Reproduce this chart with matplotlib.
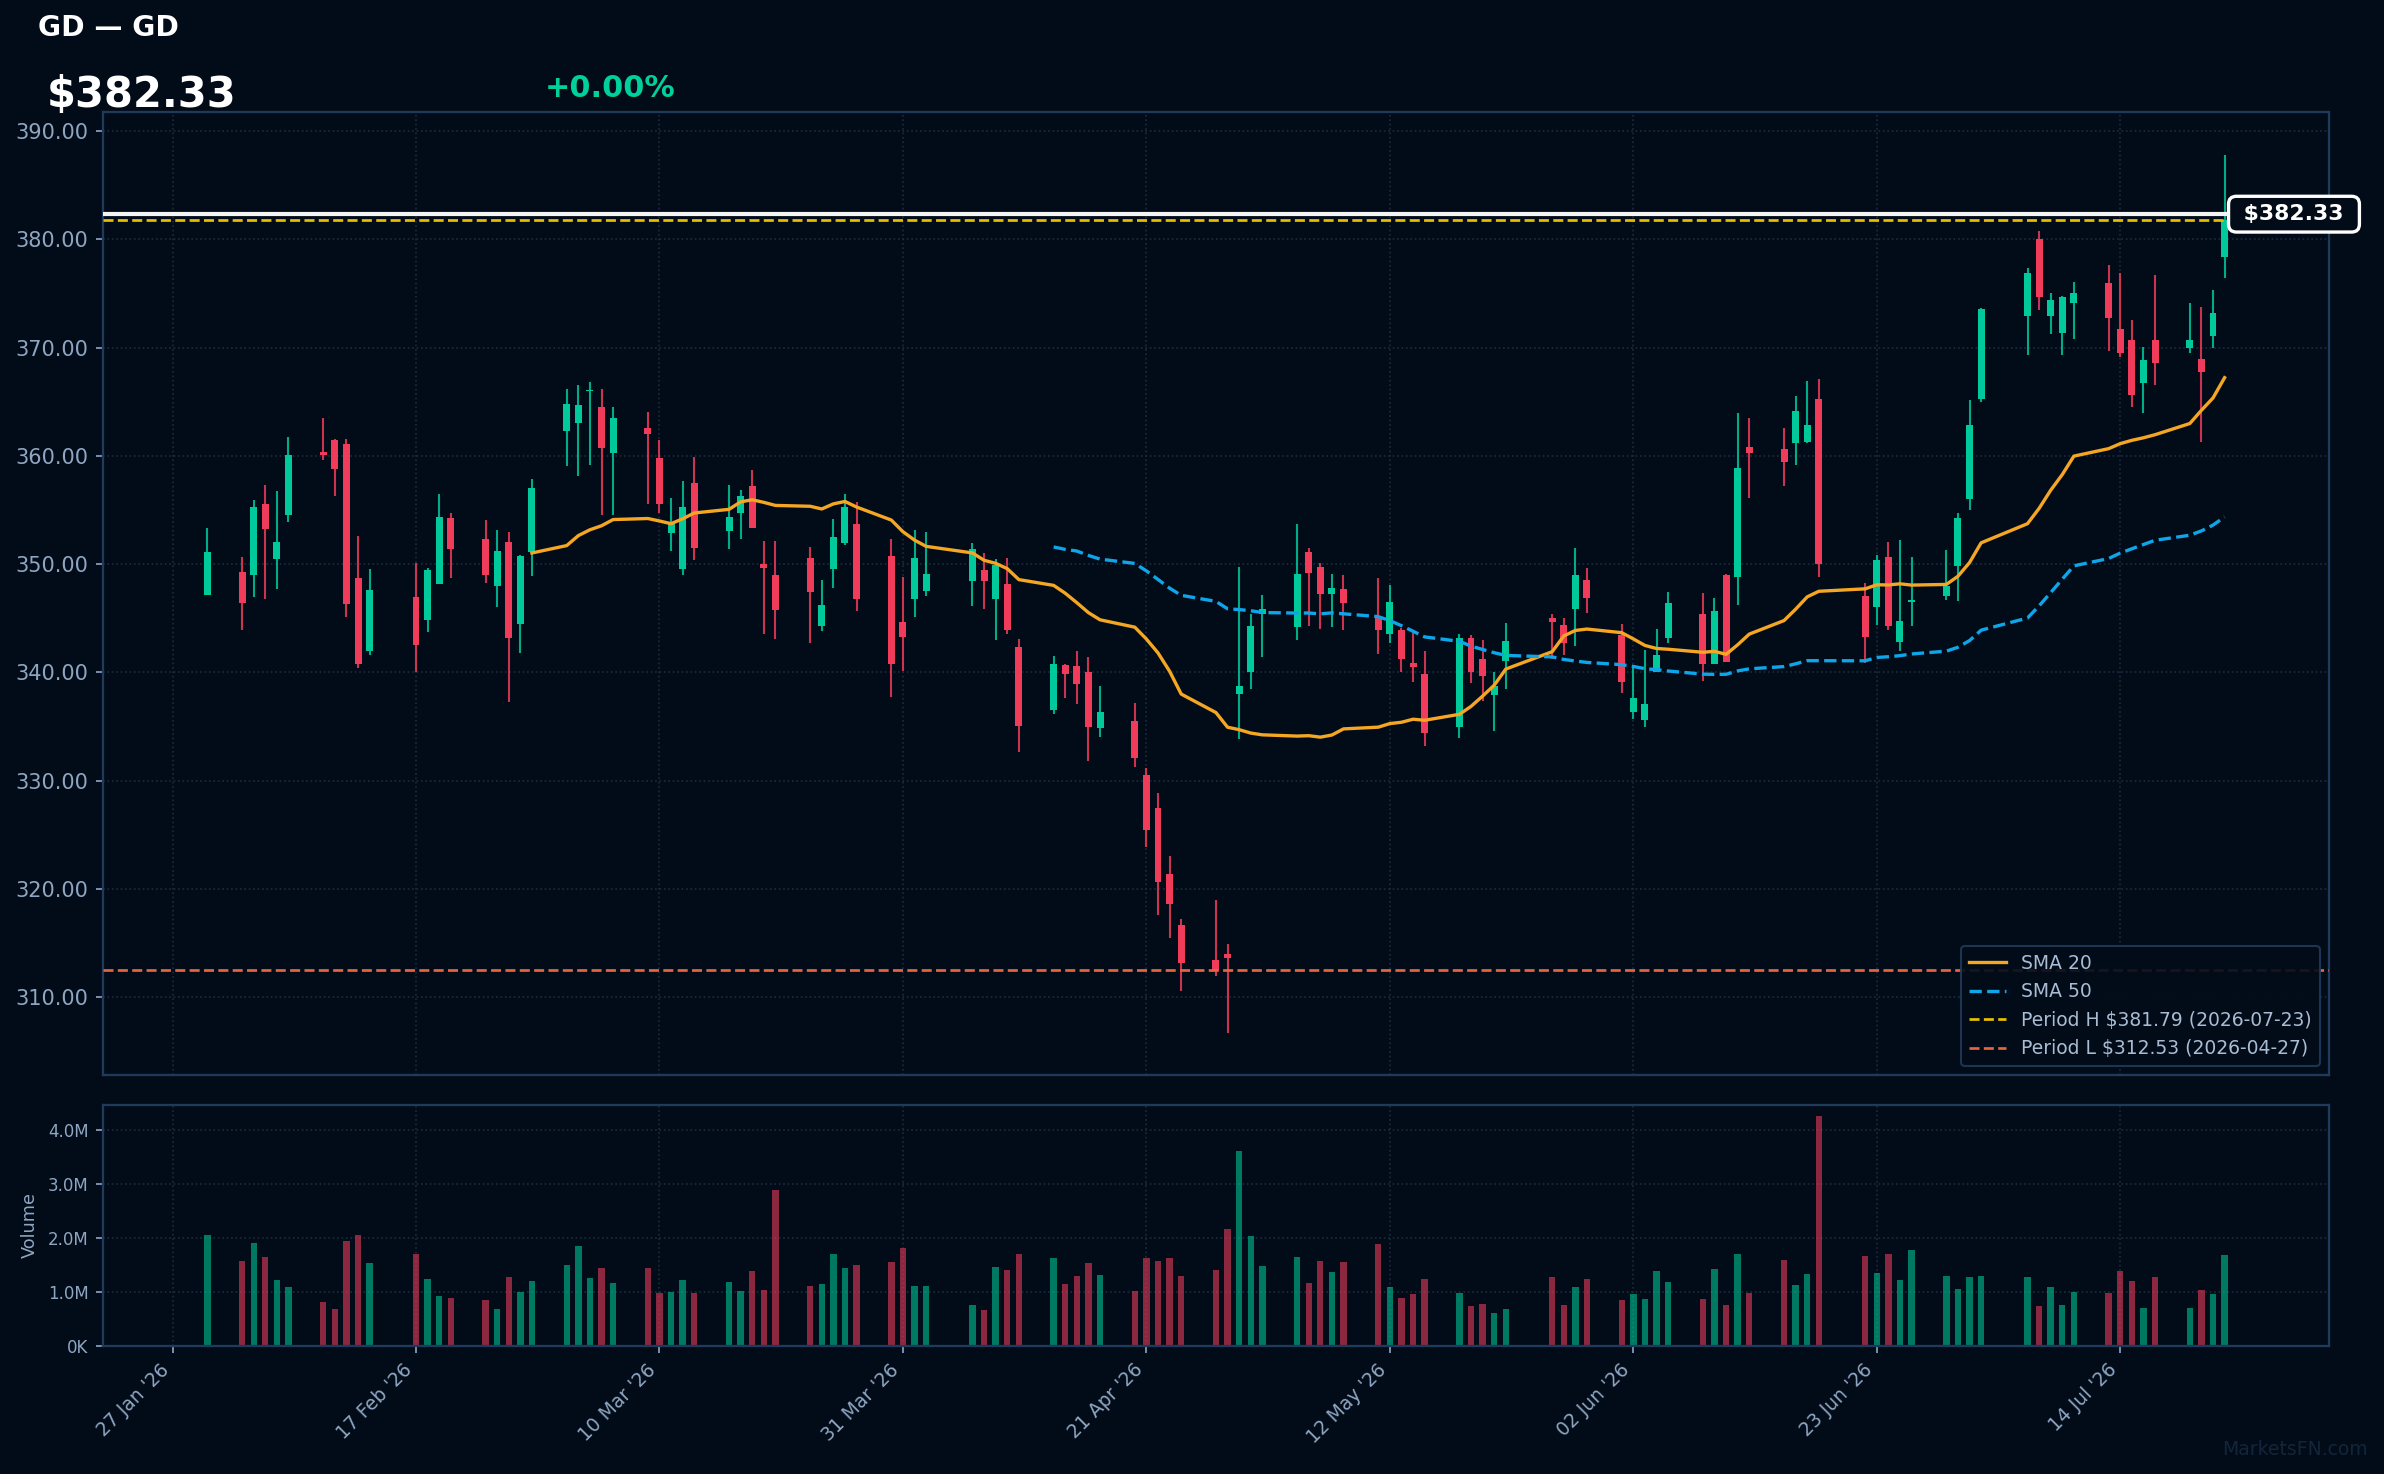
import numpy as np
import pandas as pd
import matplotlib
matplotlib.use("Agg")
import matplotlib.pyplot as plt
import matplotlib.dates as mdates
import matplotlib.transforms as mtransforms
from matplotlib.ticker import FuncFormatter, FixedLocator, MultipleLocator

# ---------------- data ----------------
TICKER = "GD"
LAST_PRICE = 382.33
CHANGE_PCT = 0.00
PERIOD_H = 381.79
PERIOD_H_DATE = "2026-07-23"
PERIOD_L = 312.53
PERIOD_L_DATE = "2026-04-27"

HOLIDAYS = ["2026-02-16", "2026-04-03", "2026-05-25", "2026-06-19", "2026-07-03"]
dates = pd.bdate_range("2026-01-30", "2026-07-23")
dates = dates[~dates.isin(pd.to_datetime(HOLIDAYS))]

opens = [347.18, 349.31, 349.03, 355.59, 350.51, 354.51, 360.40, 361.51, 361.14, 348.75,
         341.94, 346.99, 344.81, 348.13, 354.30, 352.36, 347.95, 352.08, 344.44, 351.16,
         362.34, 363.08, 366.01, 364.56, 360.25, 362.62, 359.85, 352.85, 349.52, 357.53,
         353.03, 354.70, 357.26, 350.02, 349.03, 350.60, 344.25, 349.52, 351.92, 353.74,
         350.79, 344.68, 346.75, 347.49, 348.41, 349.50, 346.83, 348.20, 342.39, 336.57,
         340.71, 340.61, 340.03, 334.83, 335.51, 330.52, 327.48, 321.39, 316.67, 313.42,
         314.00, 338.04, 340.09, 345.43, 344.16, 351.14, 349.77, 347.21, 347.72, 345.17,
         343.51, 343.97, 340.92, 339.87, 335.00, 343.14, 341.29, 337.96, 341.10, 345.05,
         344.43, 345.82, 348.56, 343.42, 336.39, 335.65, 340.09, 343.14, 345.42, 340.83,
         349.02, 348.78, 360.86, 360.68, 361.16, 361.33, 365.30, 347.07, 346.01, 350.69,
         342.86, 346.49, 347.10, 349.80, 356.06, 365.30, 372.89, 380.07, 372.89, 371.32,
         374.12, 375.93, 371.76, 370.67, 366.70, 370.67, 369.95, 368.99, 371.04, 378.36]
highs = [353.37, 350.69, 355.96, 357.35, 356.79, 361.79, 363.54, 361.60, 361.60, 352.63,
         349.58, 350.14, 349.68, 356.52, 354.76, 354.11, 353.19, 353.00, 350.88, 357.90,
         366.22, 366.59, 366.87, 366.22, 364.56, 364.10, 361.51, 356.15, 357.72, 359.94,
         357.35, 356.89, 358.74, 352.17, 352.17, 351.62, 348.57, 354.21, 356.52, 355.78,
         352.36, 348.84, 353.19, 353.00, 351.99, 351.07, 350.49, 350.59, 343.10, 341.53,
         340.81, 342.01, 341.43, 338.76, 337.19, 331.17, 328.88, 323.06, 317.21, 318.99,
         314.92, 349.77, 345.43, 347.17, 353.74, 351.52, 350.15, 349.12, 349.02, 348.75,
         348.10, 344.07, 343.79, 342.03, 343.60, 343.42, 343.02, 340.09, 344.59, 345.42,
         345.05, 351.52, 349.67, 344.49, 340.55, 342.09, 344.06, 347.45, 347.36, 346.90,
         349.12, 364.00, 363.54, 362.59, 365.57, 366.94, 367.14, 348.27, 350.86, 352.06,
         352.27, 350.69, 351.34, 354.76, 365.19, 373.71, 377.40, 380.82, 375.08, 374.77,
         376.10, 377.68, 376.92, 372.55, 370.09, 376.75, 374.09, 373.78, 375.35, 387.83]
lows = [347.12, 343.97, 346.93, 346.75, 347.73, 353.93, 359.60, 356.27, 345.08, 340.37,
        341.66, 340.09, 343.70, 348.13, 348.69, 348.23, 346.01, 337.32, 341.76, 348.87,
        359.11, 358.18, 359.20, 354.51, 354.51, 355.53, 354.70, 351.19, 348.97, 350.35,
        351.37, 352.30, 353.31, 343.60, 343.05, 342.77, 343.79, 347.77, 351.74, 345.64,
        337.78, 340.18, 345.08, 347.03, 346.17, 345.91, 342.97, 343.51, 332.67, 336.19,
        337.60, 337.05, 331.85, 334.01, 331.31, 323.92, 317.62, 315.50, 310.61, 311.98,
        306.72, 333.90, 338.49, 341.43, 343.04, 344.34, 344.06, 344.23, 343.96, 341.75,
        342.77, 340.00, 339.16, 333.25, 333.99, 339.07, 337.41, 334.63, 338.52, 341.29,
        341.66, 342.49, 345.45, 338.15, 335.74, 335.00, 340.00, 342.77, 339.26, 340.75,
        340.95, 346.19, 356.08, 357.19, 359.21, 361.16, 348.78, 340.84, 344.43, 343.89,
        341.94, 344.33, 346.66, 346.56, 354.97, 364.95, 369.30, 373.51, 371.25, 369.30,
        370.84, 369.67, 369.16, 364.48, 363.93, 366.53, 369.47, 361.26, 369.95, 376.41]
closes = [351.16, 346.38, 355.32, 353.28, 352.08, 360.09, 360.06, 358.77, 346.29, 340.74,
          347.64, 342.50, 349.49, 354.39, 351.37, 348.97, 351.25, 343.14, 350.79, 357.07,
          364.84, 364.75, 366.10, 360.71, 363.54, 362.00, 355.53, 353.77, 355.32, 351.46,
          354.39, 356.33, 353.31, 349.61, 345.73, 347.40, 346.26, 352.54, 355.32, 346.75,
          340.74, 343.24, 350.60, 349.12, 351.42, 348.41, 349.94, 343.89, 335.10, 340.81,
          339.86, 338.90, 334.93, 336.37, 332.13, 325.49, 320.67, 318.65, 313.18, 312.53,
          313.66, 338.76, 344.30, 345.84, 349.12, 349.16, 347.21, 347.82, 346.45, 343.97,
          346.53, 341.29, 340.55, 334.45, 343.14, 340.09, 339.72, 338.79, 342.95, 344.62,
          342.68, 349.02, 346.84, 339.16, 337.62, 337.10, 341.57, 346.44, 340.83, 345.70,
          341.01, 358.92, 360.24, 359.48, 364.17, 362.87, 350.01, 343.31, 350.42, 344.33,
          344.78, 346.66, 348.03, 354.28, 362.87, 373.61, 376.92, 374.67, 374.36, 374.67,
          375.08, 372.72, 369.47, 365.60, 368.89, 368.55, 370.67, 367.73, 373.23, 381.79]
volumes_m = [2.06, 1.57, 1.91, 1.65, 1.22, 1.09, 0.81, 0.68, 1.94, 2.06,
             1.54, 1.70, 1.24, 0.92, 0.89, 0.85, 0.68, 1.28, 1.00, 1.20,
             1.50, 1.85, 1.26, 1.44, 1.16, 1.44, 0.98, 1.00, 1.22, 0.98,
             1.18, 1.02, 1.39, 1.03, 2.89, 1.11, 1.15, 1.70, 1.44, 1.50,
             1.55, 1.81, 1.11, 1.11, 0.76, 0.66, 1.46, 1.41, 1.70, 1.63,
             1.15, 1.29, 1.54, 1.31, 1.02, 1.63, 1.57, 1.63, 1.29, 1.41,
             2.17, 3.60, 2.04, 1.48, 1.65, 1.16, 1.57, 1.37, 1.55, 1.89,
             1.09, 0.89, 0.96, 1.24, 0.98, 0.74, 0.77, 0.61, 0.68, 1.28,
             0.76, 1.09, 1.24, 0.85, 0.96, 0.87, 1.39, 1.18, 0.87, 1.42,
             0.76, 1.70, 0.98, 1.59, 1.13, 1.33, 4.25, 1.67, 1.35, 1.70,
             1.22, 1.78, 1.29, 1.05, 1.28, 1.29, 1.28, 0.74, 1.09, 0.76,
             1.00, 0.98, 1.39, 1.20, 0.70, 1.28, 0.70, 1.03, 0.96, 1.68]

TICK_DATES = ["2026-01-27", "2026-02-17", "2026-03-10", "2026-03-31", "2026-04-21",
              "2026-05-12", "2026-06-02", "2026-06-23", "2026-07-14"]

# ---------------- style ----------------
BG = "#020c18"
SPINE = "#1f3a5a"
GRID = "#1b2b3e"
TXT = "#8fa6c3"
UP = "#00c99b"
DOWN = "#f03b5a"
SMA20_C = "#f5a623"
SMA50_C = "#0ea5e9"
PH_C = "#e6c000"
PL_C = "#e8643c"

plt.rcParams["font.family"] = ["DejaVu Sans"]

o = np.array(opens); h = np.array(highs); l = np.array(lows); c = np.array(closes)
v = np.array(volumes_m) * 1e6
x = mdates.date2num(dates.to_pydatetime())
up = c >= o
cols = np.where(up, UP, DOWN)

sma20 = pd.Series(c).rolling(20).mean().values
sma50 = pd.Series(c).rolling(50).mean().values

fig = plt.figure(figsize=(2384 / 150, 1474 / 150), dpi=150, facecolor=BG)
ax = fig.add_axes([0.0432, 0.2707, 0.9337, 0.6530])
axv = fig.add_axes([0.0432, 0.0870, 0.9337, 0.1635], sharex=ax)

for a in (ax, axv):
    a.set_facecolor(BG)
    for s in a.spines.values():
        s.set_color(SPINE)
        s.set_linewidth(1.1)
    a.grid(True, color=GRID, linestyle=":", linewidth=0.8)
    a.set_axisbelow(True)
    a.tick_params(colors=TXT, which="both")

# candles
ax.vlines(x, l, h, colors=cols, linewidth=1.0, alpha=0.85, zorder=2)
body_lo = np.minimum(o, c)
body_h = np.maximum(np.abs(c - o), 0.12)
ax.bar(x, body_h, width=0.6, bottom=body_lo, color=cols, linewidth=0, zorder=3)

ax.plot(x, sma20, color=SMA20_C, linewidth=1.6, label="SMA 20", zorder=4)
ax.plot(x, sma50, color=SMA50_C, linewidth=1.6, linestyle="--", label="SMA 50", zorder=4)
ax.axhline(PERIOD_H, color=PH_C, linestyle="--", linewidth=1.3,
           label=f"Period H ${PERIOD_H:.2f} ({PERIOD_H_DATE})", zorder=4)
ax.axhline(PERIOD_L, color=PL_C, linestyle="--", linewidth=1.3,
           label=f"Period L ${PERIOD_L:.2f} ({PERIOD_L_DATE})", zorder=4)
ax.axhline(LAST_PRICE, color="#f4f4f4", linewidth=2.0, zorder=5)

trans = mtransforms.blended_transform_factory(ax.transAxes, ax.transData)
ax.text(0.9843, LAST_PRICE, f" ${LAST_PRICE:.2f} ", transform=trans, ha="center", va="center",
        color="white", fontsize=10.5, fontweight="bold", clip_on=False, zorder=10,
        bbox=dict(boxstyle="round,pad=0.36", fc=BG, ec="white", lw=1.6))

lo, hi = l.min(), h.max()
rng = hi - lo
ax.set_ylim(lo - 0.048 * rng, hi + 0.048 * rng)
ax.set_xlim(x[0] - 9, x[-1] + 9)
ax.yaxis.set_major_locator(MultipleLocator(10))
ax.yaxis.set_major_formatter(FuncFormatter(lambda val, p: f"{val:.2f}"))
ax.tick_params(axis="y", labelsize=10)
ax.tick_params(axis="x", length=0, labelbottom=False)

leg = ax.legend(loc="lower right", fontsize=9, facecolor=BG, edgecolor=SPINE,
                labelcolor="#a9bcd4", framealpha=0.9)
leg.get_frame().set_linewidth(1.0)

# volume
vcols = np.where(up, UP, DOWN)
axv.bar(x, v, width=0.55, color=vcols, alpha=0.58, linewidth=0)
axv.set_ylim(0, v.max() * 1.05)
axv.yaxis.set_major_locator(MultipleLocator(1e6))
axv.yaxis.set_major_formatter(FuncFormatter(
    lambda val, p: f"{val / 1e6:.1f}M" if val >= 1e6 else f"{val / 1e3:.0f}K"))
axv.tick_params(axis="y", labelsize=8)
axv.set_ylabel("Volume", color=TXT, fontsize=8.5)

tick_x = mdates.date2num(pd.to_datetime(TICK_DATES).to_pydatetime())
axv.xaxis.set_major_locator(FixedLocator(tick_x))
axv.xaxis.set_major_formatter(mdates.DateFormatter("%d %b '%y"))
axv.tick_params(axis="x", labelsize=9)
for lab in axv.get_xticklabels():
    lab.set_rotation(45)
    lab.set_ha("right")

# header
fig.text(38 / 2384, 1 - 36 / 1474, f"{TICKER} \u2014 {TICKER}", color="white",
         fontsize=13.5, fontweight="bold", va="baseline", ha="left")
fig.text(47 / 2384, 1 - 107 / 1474, f"${LAST_PRICE:.2f}", color="white",
         fontsize=20, fontweight="bold", va="baseline", ha="left")
fig.text(545 / 2384, 1 - 97 / 1474, f"+{CHANGE_PCT:.2f}%", color="#00d09c",
         fontsize=14.5, fontweight="bold", va="baseline", ha="left")
fig.text(2368 / 2384, 1 - 1455 / 1474, "MarketsFN.com", color="#13253a",
         fontsize=9, ha="right", va="baseline")

fig.savefig("out.png", dpi=150, facecolor=BG)
